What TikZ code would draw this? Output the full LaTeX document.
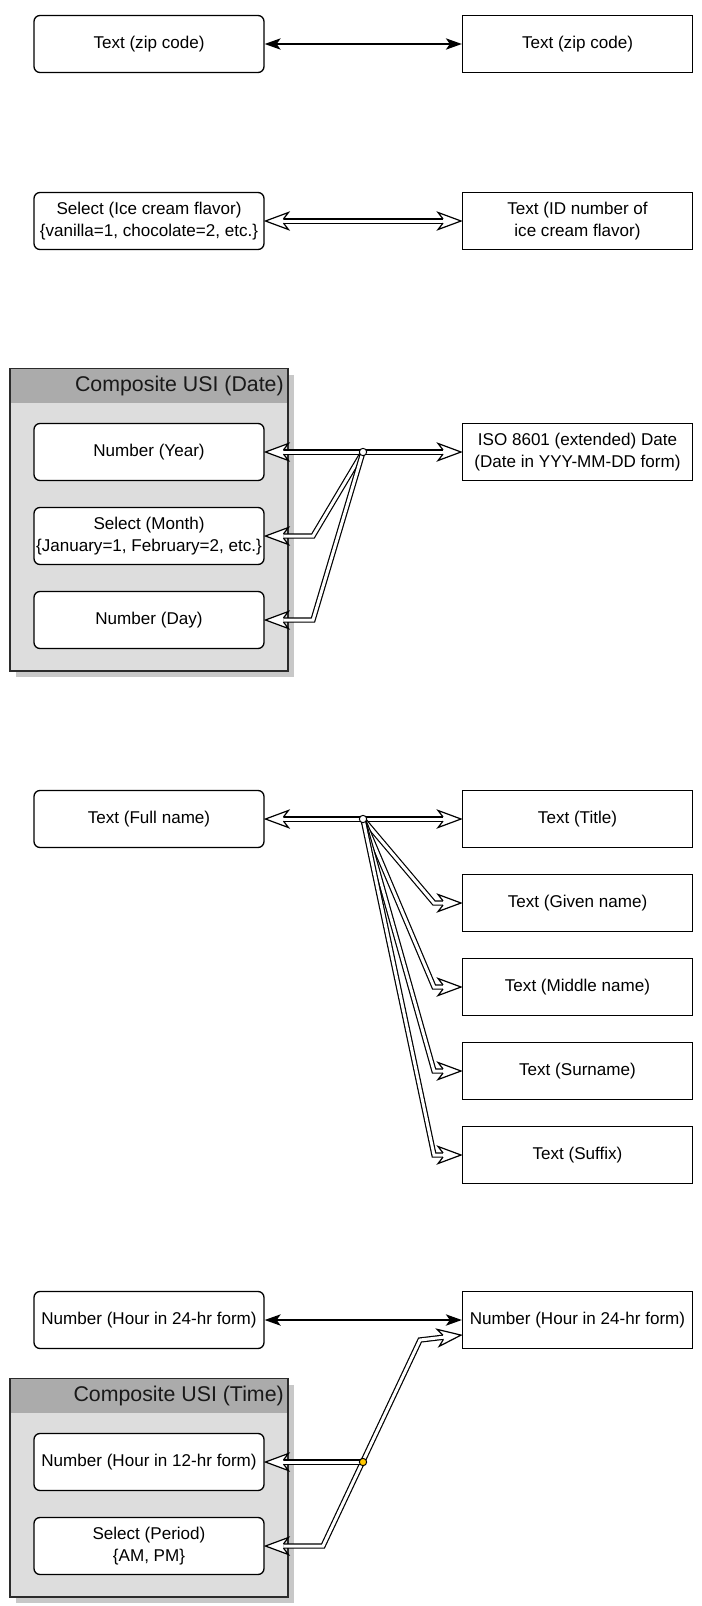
\documentclass[tikz,border=0pt]{standalone}
\usepackage{fontspec}
\setmainfont{Liberation Sans}
\usetikzlibrary{arrows.meta,shadows,calc}

% open head for double (link) connectors: white chevron whose back joins the two strokes
\pgfdeclarearrow{
  name = LinkHead,
  cache = false,
  setup code = {
    \pgfarrowssettipend{0.6pt}
    \pgfarrowssetbackend{-17.25pt}
    \pgfarrowssetlineend{-13.5pt}
    \pgfarrowssetvisualbackend{-13.5pt}
  },
  drawing code = {
    \pgfsetdash{}{0pt}
    \pgfsetmiterjoin
    \pgfsetbuttcap
    \pgfsetlinewidth{0.9pt}
    \pgfsetfillcolor{white}
    \pgfsetstrokecolor{black}
    \pgfpathmoveto{\pgfqpoint{0pt}{0pt}}
    \pgfpathlineto{\pgfqpoint{-17.25pt}{6.4pt}}
    \pgfpathlineto{\pgfqpoint{-13.5pt}{1.575pt}}
    \pgfpathlineto{\pgfqpoint{-13.5pt}{-1.575pt}}
    \pgfpathlineto{\pgfqpoint{-17.25pt}{-6.4pt}}
    \pgfpathclose
    \pgfusepathqfill
    \pgfpathmoveto{\pgfqpoint{-13.5pt}{1.575pt}}
    \pgfpathlineto{\pgfqpoint{-17.25pt}{6.4pt}}
    \pgfpathlineto{\pgfqpoint{0pt}{0pt}}
    \pgfpathlineto{\pgfqpoint{-17.25pt}{-6.4pt}}
    \pgfpathlineto{\pgfqpoint{-13.5pt}{-1.575pt}}
    \pgfusepathqstroke
  },
}

\definecolor{usihead}{HTML}{ABABAB}
\definecolor{usibody}{HTML}{DDDDDD}
\definecolor{usishadow}{HTML}{C8C8C8}
\definecolor{usiline}{HTML}{2B2B2B}
\definecolor{jointyellow}{HTML}{FFC800}

\newcommand\boxfont{\fontsize{12.8pt}{16pt}\selectfont}
\newcommand\usifont{\fontsize{16pt}{19pt}\selectfont}

\tikzset{
  lbox/.style={draw, line width=1pt, rounded corners=4.5pt, fill=white,
    minimum width=172.5pt, minimum height=42.75pt, inner sep=0pt,
    align=center, font=\boxfont},
  rbox/.style={lbox, sharp corners},
  usi/.style={draw=usiline, fill=usibody, line width=1pt, inner sep=0pt,
    minimum width=208.5pt,
    drop shadow={fill=usishadow, opacity=1, shadow xshift=4.5pt, shadow yshift=-4.5pt}},
  usibar/.style={fill=usihead, draw=none, inner sep=0pt, anchor=north,
    minimum width=207.5pt, minimum height=25pt},
  usititle/.style={anchor=east, inner sep=0pt, font=\usifont, text=black!90},
  plain/.style={line width=1pt, <->,
    >={Stealth[length=12pt,width=8.5pt,inset=3pt]}},
  link/.style={line width=0.9pt, double=white, double distance=2.25pt, line join=miter},
  linkto/.style={link, -{LinkHead}},
  linkboth/.style={link, {LinkHead}-{LinkHead}},
  joint/.style={circle, draw, line width=0.75pt, fill=white, inner sep=0pt, minimum size=5.5pt},
}

\begin{document}
\begin{tikzpicture}[x=0.75pt, y=-0.75pt]
\useasboundingbox (0,0) rectangle (702,1606);

% ---- composite containers ----
\node[usi, minimum height=226.5pt] (dateusi) at (149,520) {};
\node[usibar] (datebar) at ([yshift=-0.5pt]dateusi.north) {};
\node[usititle] (datetitle) at (284,386) {Composite USI (Date)};

\node[usi, minimum height=163.5pt] (timeusi) at (149,1488) {};
\node[usibar] (timebar) at ([yshift=-0.5pt]timeusi.north) {};
\node[usititle] (timetitle) at (284,1396) {Composite USI (Time)};

% ---- zip code ----
\node[lbox] (zipa) at (149,44) {Text (zip code)};
\node[rbox] (zipb) at (577.5,44) {Text (zip code)};
\draw[plain] (zipa) -- (zipb);

% ---- ice cream flavor ----
\node[lbox] (icea) at (149,221) {Select (Ice cream flavor)\\\{vanilla=1, chocolate=2, etc.\}};
\node[rbox] (iceb) at (577.5,221) {Text (ID number of\\ice cream flavor)};
\draw[linkboth] (icea) -- (iceb);

% ---- date ----
\node[lbox] (year) at (149,452) {Number (Year)};
\node[lbox] (month) at (149,536) {Select (Month)\\\{January=1, February=2, etc.\}};
\node[lbox] (day) at (149,620) {Number (Day)};
\node[rbox] (iso) at (577.5,452) {ISO 8601 (extended) Date\\(Date in YYY-MM-DD form)};

\coordinate (dj) at (363,452);
\coordinate (dm) at (313,536);
\coordinate (dd) at (313,620);
\draw[linkto] (dj) -- (year.east);
\draw[linkto] (dj) -- (iso.west);
\draw[linkto] (dj) -- (dm) -- (month.east);
\draw[linkto] (dj) -- (dd) -- (day.east);
\node[joint] (djoint) at (dj) {};

% ---- full name ----
\node[lbox] (full) at (149,819) {Text (Full name)};
\node[rbox] (title) at (577.5,819) {Text (Title)};
\node[rbox] (given) at (577.5,903) {Text (Given name)};
\node[rbox] (middle) at (577.5,987) {Text (Middle name)};
\node[rbox] (surname) at (577.5,1071) {Text (Surname)};
\node[rbox] (suffix) at (577.5,1155) {Text (Suffix)};

\coordinate (fj) at (363,819);
\coordinate (fg) at (434,903);
\coordinate (fm) at (434,987);
\coordinate (fs) at (434,1071);
\coordinate (fx) at (434,1155);
\draw[linkto] (fj) -- (full.east);
\draw[linkto] (fj) -- (title.west);
\draw[linkto] (fj) -- (fg) -- (given.west);
\draw[linkto] (fj) -- (fm) -- (middle.west);
\draw[linkto] (fj) -- (fs) -- (surname.west);
\draw[linkto] (fj) -- (fx) -- (suffix.west);
\node[joint] (fjoint) at (fj) {};

% ---- time ----
\node[lbox] (hra) at (149,1320) {Number (Hour in 24-hr form)};
\node[rbox] (hrb) at (577.5,1320) {Number (Hour in 24-hr form)};
\draw[plain] (hra) -- (hrb);

\node[lbox] (hr12) at (149,1462) {Number (Hour in 12-hr form)};
\node[lbox] (period) at (149,1546) {Select (Period)\\\{AM, PM\}};

\coordinate (tj) at (363,1462);
\coordinate (tlow) at (323,1546);
\coordinate (thigh) at (420,1340);
\draw[linkboth] (period.east) -- (tlow) -- (thigh) -- ([yshift=-11.25pt]hrb.west);
\draw[linkto] (tj) -- (hr12.east);
\node[joint, fill=jointyellow] (tjoint) at (tj) {};
\end{tikzpicture}
\end{document}
